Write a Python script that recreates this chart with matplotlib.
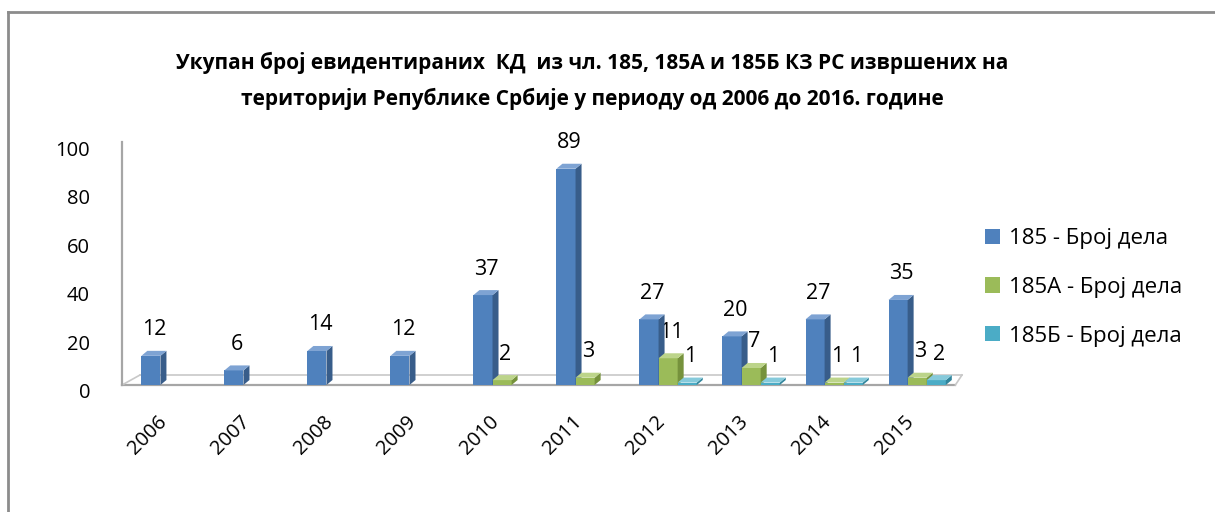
import matplotlib
matplotlib.use("Agg")
import matplotlib.pyplot as plt
from matplotlib.patches import Polygon, Patch
from matplotlib.lines import Line2D
import matplotlib.transforms as mtransforms
import numpy as np

plt.rcParams['font.family'] = ['Open Sans', 'DejaVu Sans']

years = ['2006', '2007', '2008', '2009', '2010', '2011', '2012', '2013', '2014', '2015']
s185 = [12, 6, 14, 12, 37, 89, 27, 20, 27, 35]
s185A = [None, None, None, None, 2, 3, 11, 7, 1, 3]
s185B = [None, None, None, None, None, None, 1, 1, 1, 2]
series_names = ['185 - Број дела', '185А - Број дела', '185Б - Број дела']
title = ('Укупан број евидентираних  КД  из чл. 185, 185А и 185Б КЗ РС извршених на\n'
         'територији Републике Србије у периоду од 2006 до 2016. године')

front_cols = ['#4F81BD', '#9BBB59', '#4BACC6']
side_cols = ['#385D8A', '#76923C', '#31859C']
top_cols = ['#7EA3D3', '#BCD48A', '#86CADB']

W, H = 1215, 512
fig = plt.figure(figsize=(W / 100, H / 100), dpi=100)

ax_l, ax_r, ax_t, ax_b = 122, 962, 142, 385
ax = fig.add_axes([ax_l / W, 1 - ax_b / H, (ax_r - ax_l) / W, (ax_b - ax_t) / H])
ax.set_xlim(-0.578, 9.54)
ax.set_ylim(0, 100)

px_x = (ax_r - ax_l) / (9.54 + 0.578)
px_y = (ax_b - ax_t) / 100.0
ddx = 6 / px_x
ddy = 5 / px_y

bw = 0.23
x = np.arange(len(years))
offsets = [-bw, 0.0, bw]
all_series = [s185, s185A, s185B]

# floor
back_y = 10 / px_y
ax.add_line(Line2D([-0.578, 9.46], [0, 0], color='#A6A6A6', lw=1.6, zorder=1, clip_on=False))
ax.add_line(Line2D([-0.578 + 18 / px_x, 9.54], [back_y, back_y],
                   color='#C8C8C8', lw=1.2, zorder=1, clip_on=False))
ax.add_line(Line2D([-0.578, -0.578 + 18 / px_x], [0, back_y], color='#C8C8C8', lw=1.2,
                   zorder=1, clip_on=False))
ax.add_line(Line2D([9.46, 9.54], [0, back_y], color='#C8C8C8', lw=1.2,
                   zorder=1, clip_on=False))

z = 3
for i in range(len(years)):
    for s, ser in enumerate(all_series):
        v = ser[i]
        if v is None:
            continue
        xc = x[i] + offsets[s]
        x0, x1 = xc - bw / 2, xc + bw / 2
        ax.bar(xc, v, width=bw, color=front_cols[s], zorder=z, linewidth=0)
        ax.add_patch(Polygon([(x1, 0), (x1 + ddx, ddy), (x1 + ddx, v + ddy), (x1, v)],
                             closed=True, facecolor=side_cols[s], edgecolor='none', zorder=z))
        ax.add_patch(Polygon([(x0, v), (x1, v), (x1 + ddx, v + ddy), (x0 + ddx, v + ddy)],
                             closed=True, facecolor=top_cols[s], edgecolor='none', zorder=z))
        ax.annotate(str(v), (xc, v), xytext=(3, 26), textcoords='offset pixels',
                    ha='center', va='center', fontsize=15.5, zorder=10)
        z += 1

# axes styling
for sp in ['top', 'right', 'bottom']:
    ax.spines[sp].set_visible(False)
ax.spines['left'].set_color('#A6A6A6')
ax.spines['left'].set_linewidth(1.6)
ax.set_yticks([0, 20, 40, 60, 80, 100])
ax.tick_params(axis='y', length=0, pad=23, labelsize=14.5)
off = mtransforms.ScaledTranslation(0, -6 / 100, fig.dpi_scale_trans)
for lab in ax.get_yticklabels():
    lab.set_transform(lab.get_transform() + off)
ax.set_xticks(x)
ax.set_xticklabels(years, rotation=45, ha='right', va='top', rotation_mode='anchor', fontsize=14.5)
ax.tick_params(axis='x', length=0, pad=19)
offx = mtransforms.ScaledTranslation(-13 / 100, 0, fig.dpi_scale_trans)
for lab in ax.get_xticklabels():
    lab.set_transform(lab.get_transform() + offx)

# title
fig.text(592 / W, 1 - 81 / H, title, ha='center', va='center', fontsize=15,
         fontweight='bold', linespacing=1.8)

# legend
handles = [Patch(facecolor=c, edgecolor='none') for c in front_cols]
fig.legend(handles, series_names, loc='upper left', bbox_to_anchor=(985 / W, 1 - 228 / H),
           frameon=False, fontsize=16, handlelength=0.68, handleheight=0.68,
           handletextpad=0.4, labelspacing=1.25, borderaxespad=0, borderpad=0)

# outer border (left and top edges)
fig.add_artist(Line2D([8 / W, 8 / W], [0, 1 - 12 / H], transform=fig.transFigure,
                      color='#8C8C8C', lw=2))
fig.add_artist(Line2D([8 / W, 1], [1 - 12 / H, 1 - 12 / H], transform=fig.transFigure,
                      color='#8C8C8C', lw=2))

fig.savefig('out.png', dpi=100, facecolor='white')
